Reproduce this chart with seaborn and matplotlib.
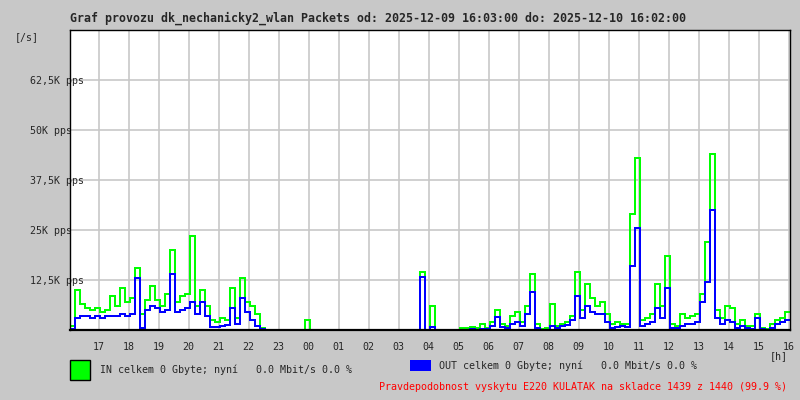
import numpy as np
import pandas as pd
import seaborn as sns
import matplotlib
matplotlib.use('Agg')
import matplotlib.pyplot as plt
from matplotlib.patches import Rectangle


# hodnoty v K pps, 10 minutove intervaly od 16:03
in_pps = [1.0, 10.0, 6.5, 5.5, 5.0, 5.5, 4.5, 5.0, 8.5, 6.0, 10.5, 7.0,
          8.0, 15.5, 4.0, 7.5, 11.0, 7.5, 6.0, 9.0, 20.0, 7.0, 8.5, 9.0,
          23.5, 6.0, 10.0, 6.0, 2.5, 2.0, 3.0, 2.5, 10.5, 3.0, 13.0, 7.0,
          6.0, 4.0, 0.5, 0, 0, 0, 0, 0, 0, 0, 0, 2.5,
          0, 0, 0, 0, 0, 0, 0, 0, 0, 0, 0, 0,
          0, 0, 0, 0, 0, 0, 0, 0, 0, 0, 14.5, 0,
          6.0, 0, 0, 0, 0, 0, 0.5, 0.5, 0.8, 0.5, 1.5, 0.5,
          2.0, 5.0, 1.5, 1.0, 3.5, 4.5, 2.0, 6.0, 14.0, 1.5, 0.3, 0.5,
          6.5, 1.0, 1.5, 2.0, 3.5, 14.5, 5.0, 11.5, 8.0, 6.0, 7.0, 4.0,
          1.5, 2.0, 1.5, 1.5, 29.0, 43.0, 2.5, 3.0, 4.0, 11.5, 6.0, 18.5,
          1.5, 1.0, 4.0, 3.0, 3.5, 4.0, 9.0, 22.0, 44.0, 5.0, 3.0, 6.0,
          5.5, 1.5, 2.5, 1.0, 1.0, 4.0, 0.5, 0.3, 1.5, 2.5, 3.0, 4.5]

out_pps = [0.3, 3.0, 3.5, 3.5, 3.0, 3.5, 3.0, 3.5, 3.5, 3.5, 4.0, 3.5,
           4.0, 13.0, 0.5, 5.0, 6.0, 5.5, 4.5, 5.0, 14.0, 4.5, 5.0, 5.5,
           7.0, 4.0, 7.0, 3.5, 0.8, 0.7, 1.0, 1.2, 5.5, 1.5, 8.0, 4.5,
           2.5, 1.0, 0.2, 0, 0, 0, 0, 0, 0, 0, 0, 0,
           0, 0, 0, 0, 0, 0, 0, 0, 0, 0, 0, 0,
           0, 0, 0, 0, 0, 0, 0, 0, 0, 0, 13.25, 0,
           0.7, 0, 0, 0, 0, 0, 0, 0, 0.2, 0, 0.3, 0.2,
           1.0, 3.2, 0.8, 0.5, 1.5, 2.0, 1.0, 4.0, 9.5, 0.5, 0, 0,
           1.0, 0.5, 1.0, 1.2, 2.5, 8.5, 3.0, 6.0, 4.5, 4.0, 4.0, 2.0,
           0.5, 0.8, 1.0, 0.8, 16.0, 25.5, 1.0, 1.5, 2.0, 5.5, 3.0, 10.5,
           0.5, 0.5, 1.0, 1.5, 1.5, 2.0, 7.0, 12.0, 30.0, 3.0, 1.5, 2.5,
           2.0, 0.5, 1.0, 0.5, 0.3, 3.0, 0.2, 0, 0.5, 1.5, 2.0, 2.5]

start_h = 16 + 3 / 60
step_min = 10
hour_ticks = list(range(17, 41))
hour_labels = ['%02d' % (h % 24) for h in hour_ticks]
y_ticks = [12.5, 25, 37.5, 50, 62.5]
y_labels = ['12,5K pps', '25K pps', '37,5K pps', '50K pps', '62,5K pps']

title = 'Graf provozu dk_nechanicky2_wlan Packets od: 2025-12-09 16:03:00 do: 2025-12-10 16:02:00'
in_text = 'IN celkem 0 Gbyte; nyní   0.0 Mbit/s 0.0 %'
out_text = 'OUT celkem 0 Gbyte; nyní   0.0 Mbit/s 0.0 %'
note_text = 'Pravdepodobnost vyskytu E220 KULATAK na skladce 1439 z 1440 (99.9 %)'

sns.set_style('white')
plt.rcParams['font.family'] = ['DejaVu Sans Mono']

# posledni hodnota se opakuje, aby schod dosel az na konec
t = start_h + np.arange(len(in_pps) + 1) * step_min / 60
df = pd.DataFrame({'t': t,
                   'IN': in_pps + [in_pps[-1]],
                   'OUT': out_pps + [out_pps[-1]]})

bg = '#c8c8c8'
fig = plt.figure(figsize=(8, 4), dpi=100, facecolor=bg)
ax = fig.add_axes([70 / 800, 70 / 400, 720 / 800, 300 / 400])
ax.set_facecolor('white')

sns.lineplot(data=df, x='t', y='IN', color='#00ff00', drawstyle='steps-post',
             linewidth=1.4, antialiased=False, ax=ax)
sns.lineplot(data=df, x='t', y='OUT', color='#0000ff', drawstyle='steps-post',
             linewidth=1.4, antialiased=False, ax=ax)

ax.set_xlim(t[0], t[-1])
ax.set_ylim(0, 75)
ax.set_xlabel('')
ax.set_ylabel('')
ax.set_xticks(hour_ticks)
ax.set_xticklabels(hour_labels, fontsize=7.2)
ax.set_yticks(y_ticks)
ax.set_yticklabels(y_labels, fontsize=7.2, ha='left')
ax.tick_params(axis='x', length=0, pad=8.5)
ax.tick_params(axis='y', length=0, pad=28.8)
ax.set_axisbelow(True)
ax.grid(True, color=bg, linewidth=1.2)

for side in ['left', 'right', 'top']:
    ax.spines[side].set_color('black')
    ax.spines[side].set_linewidth(1.0)
ax.spines['bottom'].set_color('black')
ax.spines['bottom'].set_linewidth(1.6)

fig.text(70 / 800, 1 - 18 / 400, title, fontsize=8.4, fontweight='bold', va='center', ha='left')
fig.text(15 / 800, 1 - 37 / 400, '[/s]', fontsize=7.2, va='center', ha='left')
fig.text(770 / 800, 1 - 356 / 400, '[h]', fontsize=7.2, va='center', ha='left')

fig.add_artist(Rectangle((70 / 800, 1 - 380 / 400), 20 / 800, 20 / 400, transform=fig.transFigure,
                         facecolor='#00ff00', edgecolor='black', linewidth=1.0))
fig.text(100 / 800, 1 - 370 / 400, in_text, fontsize=7.2, va='center', ha='left')
fig.add_artist(Rectangle((410 / 800, 1 - 371 / 400), 21 / 800, 11 / 400, transform=fig.transFigure,
                         facecolor='#0000ff', edgecolor='none'))
fig.text(439 / 800, 1 - 366 / 400, out_text, fontsize=7.2, va='center', ha='left')
fig.text(379 / 800, 1 - 387 / 400, note_text, fontsize=7.2, color='#ff0000', va='center', ha='left')

fig.savefig('out.png', dpi=100, facecolor=bg)
